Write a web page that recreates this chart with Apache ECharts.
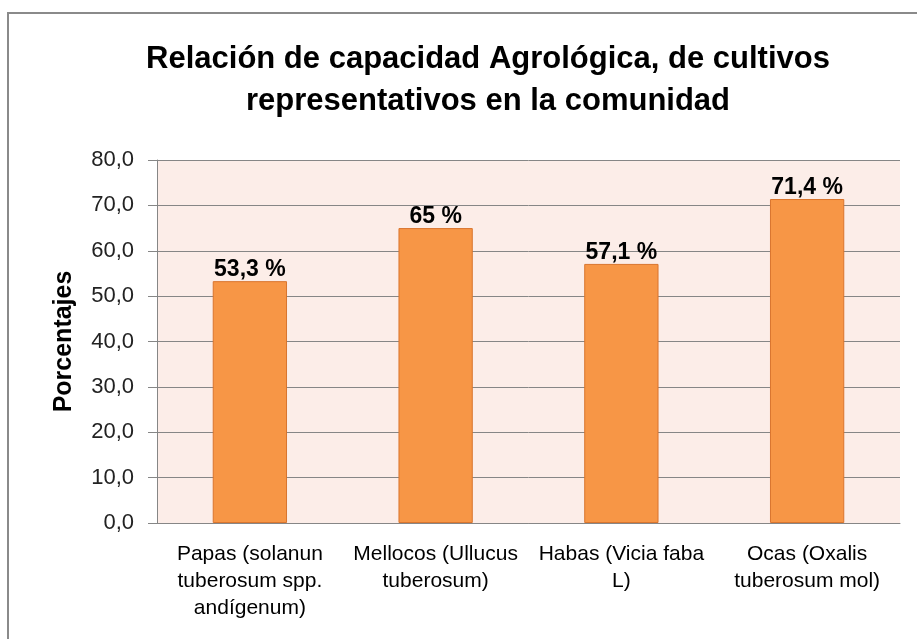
<!DOCTYPE html>
<html>
<head>
<meta charset="utf-8">
<script src="https://cdn.jsdelivr.net/npm/echarts@6/dist/echarts.min.js"></script>
<style>
  * { margin: 0; padding: 0; }
  body { background: #fff; }
  #main { width: 917px; height: 639px; }
</style>
</head>
<body>
<div id="main"></div>
<script>
// datos del gráfico
var titulo = ['Relación de capacidad Agrológica, de cultivos', 'representativos en la comunidad'];
var categorias = ['Papas (solanun\ntuberosum spp.\nandígenum)', 'Mellocos (Ullucus\ntuberosum)', 'Habas (Vicia faba\nL)', 'Ocas (Oxalis\ntuberosum mol)'];
var porcentajes = [53.3, 65, 57.1, 71.4];
var ticksY = [0, 10, 20, 30, 40, 50, 60, 70, 80];

var fuente = "'Liberation Sans', Arial, sans-serif";

var chart = echarts.init(document.getElementById('main'));
chart.setOption({
  backgroundColor: '#ffffff',
  animation: false,
  graphic: [{
    // marco exterior del gráfico
    type: 'rect',
    shape: { x: 8, y: 13, width: 930, height: 650 },
    style: { fill: 'none', stroke: '#8a8a8a', lineWidth: 2 },
    silent: true
  }, {
    type: 'text', x: 488, y: 59,
    style: { text: titulo[0], textAlign: 'center', textVerticalAlign: 'middle', fontFamily: fuente, fontWeight: 'bold', fontSize: 31, fill: '#000' }
  }, {
    type: 'text', x: 488, y: 101,
    style: { text: titulo[1], textAlign: 'center', textVerticalAlign: 'middle', fontFamily: fuente, fontWeight: 'bold', fontSize: 31, fill: '#000' }
  }],
  grid: { left: 157, right: 17, top: 160, bottom: 116, show: true, backgroundColor: '#fcede8', borderWidth: 0 },
  xAxis: {
    type: 'category',
    data: categorias,
    axisLine: { lineStyle: { color: '#868686', width: 1 } },
    axisTick: { show: false },
    axisLabel: { margin: 18, fontFamily: fuente, fontSize: 21, lineHeight: 27, color: '#000', interval: 0 }
  },
  yAxis: {
    type: 'value',
    min: ticksY[0],
    max: ticksY[ticksY.length - 1],
    interval: 10,
    name: 'Porcentajes',
    nameLocation: 'middle',
    nameGap: 80,
    nameRotate: 90,
    nameTextStyle: { fontFamily: fuente, fontWeight: 'bold', fontSize: 25, color: '#000' },
    axisLine: { show: true, lineStyle: { color: '#868686' } },
    axisTick: { show: true, length: 9, lineStyle: { color: '#868686' } },
    splitLine: { lineStyle: { color: '#868686', width: 1 } },
    axisLabel: {
      margin: 23,
      fontFamily: fuente, fontSize: 22, color: '#222',
      formatter: function (v) { return v.toFixed(1).replace('.', ','); }
    }
  },
  series: [{
    type: 'bar',
    data: porcentajes,
    barWidth: '40%',
    itemStyle: { color: '#f79646', borderColor: '#d9752e', borderWidth: 1 },
    label: {
      show: true,
      position: 'top',
      distance: 0,
      fontFamily: fuente, fontWeight: 'bold', fontSize: 23, color: '#000',
      formatter: function (p) { return String(p.value).replace('.', ',') + ' %'; }
    }
  }]
});
</script>
</body>
</html>
